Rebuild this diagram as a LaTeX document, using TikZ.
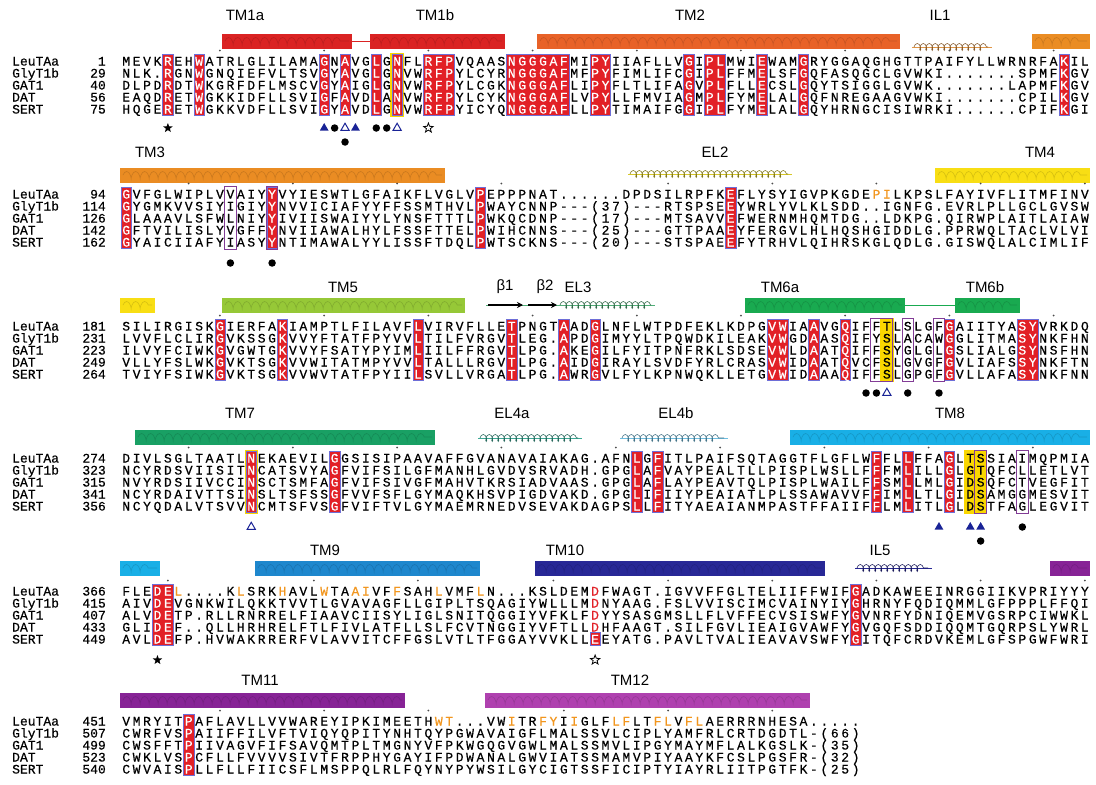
\documentclass[tikz,border=0pt]{standalone}
\usepackage{fontspec}
\setmainfont{Liberation Sans}
\newfontfamily\seqfont[FakeBold=0.5]{Liberation Mono}
\usetikzlibrary{decorations.pathmorphing,shapes.geometric,arrows.meta}

\definecolor{idred}{RGB}{226,32,38}
\definecolor{idframe}{RGB}{110,110,215}
\definecolor{resorange}{RGB}{242,150,30}
\definecolor{ringpurple}{RGB}{130,60,150}
\definecolor{siteyellow}{RGB}{250,215,0}
\definecolor{natri}{RGB}{25,35,150}
\definecolor{tmone}{RGB}{218,35,35}
\definecolor{tmtwo}{RGB}{232,98,40}
\definecolor{tmthree}{RGB}{234,140,35}
\definecolor{tmfour}{RGB}{248,222,20}
\definecolor{tmfive}{RGB}{150,200,55}
\definecolor{tmsix}{RGB}{25,170,80}
\definecolor{tmseven}{RGB}{25,160,100}
\definecolor{tmeight}{RGB}{25,175,230}
\definecolor{tmnine}{RGB}{30,135,205}
\definecolor{tmten}{RGB}{40,40,150}
\definecolor{tmeleven}{RGB}{135,35,150}
\definecolor{tmtwelve}{RGB}{175,65,175}
\definecolor{eltwo}{RGB}{215,200,40}
\definecolor{elthree}{RGB}{80,175,120}
\definecolor{elfoura}{RGB}{60,170,150}
\definecolor{elfourb}{RGB}{110,190,225}
\definecolor{iltan}{RGB}{225,150,70}

\tikzset{
  x=1pt, y=-1pt,
  seqres/.style={inner sep=0pt,anchor=base,font=\seqfont\fontsize{13}{13}\selectfont},
  rowname/.style={inner sep=0pt,anchor=base west,font=\seqfont\fontsize{13}{13}\selectfont},
  rownum/.style={inner sep=0pt,anchor=base east,font=\seqfont\fontsize{13}{13}\selectfont},
  tmlabel/.style={inner sep=0pt,font=\fontsize{15}{15}\selectfont},
  idbox/.style={fill=idred,draw=idframe,line width=0.5pt},
  sitebox/.style={fill=siteyellow},
  ringbox/.style={draw=ringpurple,line width=1pt},
  tickdot/.style={fill=black!70},
  helixcoil/.style={decorate,decoration={coil,aspect=0.4,segment length=9pt,amplitude=3.5pt},
    line width=0.6pt,opacity=0.3},
  loopcoil/.style={decorate,decoration={coil,aspect=0.5,segment length=6pt,amplitude=3.5pt},
    line width=0.6pt},
  strand/.style={-{Stealth[length=6pt,width=6pt]},line width=1.6pt},
  leusym/.style={circle,fill=black,inner sep=0pt,minimum size=7.5pt},
  natwo/.style={regular polygon,regular polygon sides=3,fill=natri,inner sep=0pt,minimum size=10pt},
  naone/.style={regular polygon,regular polygon sides=3,draw=natri,fill=white,line width=1pt,
    inner sep=0pt,minimum size=9.5pt},
  saltfill/.style={star,star points=5,star point ratio=2.4,fill=black,inner sep=0pt,minimum size=10pt},
  saltopen/.style={star,star points=5,star point ratio=2.4,draw=black,fill=white,line width=0.8pt,
    inner sep=0pt,minimum size=10pt},
}

\makeatletter
\newcount\al@col
\newcount\al@res
\newif\ifal@lead
\def\al@xz{121}
\def\al@pp{10.42}
\def\al@dy{12}
\def\al@box{,}
\def\al@red{,}
\def\al@org{,}
\newcommand\alblock[1]{\gdef\al@top{#1}\gdef\al@red{,}}
\newcommand\redcols[1]{\gdef\al@red{,#1,}}
\newcommand\sitecols[1]{%
  \foreach \a/\b in {#1}{%
    \fill[sitebox] ({\al@xz+(\a-1)*\al@pp-1.5},\al@top-8) rectangle ({\al@xz+\b*\al@pp+1.5},\al@top+4*\al@dy+8);}}
\newcommand\idboxes[1]{%
  \gdef\al@box{,}%
  \foreach \a/\b in {#1}{%
    \draw[idbox] ({\al@xz+(\a-1)*\al@pp},\al@top-6.5) rectangle ({\al@xz+\b*\al@pp},\al@top+4*\al@dy+6.5);
    \foreach \c in {\a,...,\b}{\xdef\al@box{\al@box\c,}}}}
\newcommand\cellbox[2]{%
  \draw[idbox] ({\al@xz+(#1-1)*\al@pp},\al@top+#2*\al@dy-6.5) rectangle ({\al@xz+#1*\al@pp},\al@top+#2*\al@dy+6.5);
  \xdef\al@box{\al@box#1,}}
\newcommand\ringcols[1]{%
  \foreach \a/\b in {#1}{%
    \draw[ringbox] ({\al@xz+(\a-1)*\al@pp-0.5},\al@top-7.5) rectangle ({\al@xz+\b*\al@pp+0.5},\al@top+4*\al@dy+7.5);}}
\newcommand\seqrow[3][]{%
  \gdef\al@org{,#1,}%
  \pgfmathsetmacro\al@y{\al@top+#2*\al@dy+4.5}%
  \global\al@col=0
  \al@scan#3\@nil}
\newcommand\leurow[4][]{%
  \global\al@leadtrue
  \global\al@res=#3\relax
  \global\advance\al@res by -1
  \seqrow[#1]{#2}{#4}%
  \global\al@leadfalse}
\def\al@scan#1{\ifx#1\@nil\expandafter\@gobble\else\expandafter\@firstofone\fi{\al@put{#1}\al@scan}}
\def\al@put#1{%
  \global\advance\al@col by 1
  \edef\al@x{\al@xz+(\the\al@col-0.5)*\al@pp}%
  \def\al@clr{black}%
  \edef\al@tmp{\noexpand\in@{,\the\al@col,}{\al@org}}\al@tmp
  \ifin@\def\al@clr{resorange}\fi
  \edef\al@tmp{\noexpand\in@{,\the\al@col,}{\al@red}}\al@tmp
  \ifin@\def\al@clr{idred}\fi
  \edef\al@tmp{\noexpand\in@{,\the\al@col,}{\al@box}}\al@tmp
  \ifin@\def\al@clr{white}\fi
  \node[seqres,text=\al@clr] at ({\al@x},\al@y) {#1};%
  \ifal@lead
    \if#1.\else
      \global\advance\al@res by 1
      \count@=\al@res \divide\count@ by 10 \multiply\count@ by 10
      \ifnum\count@=\al@res\relax
        \fill[tickdot] ({\al@x},\al@top-10.5) circle (1);%
      \fi
    \fi
  \fi}
\newcommand\rowlabels[5]{%
  \foreach \n/\v [count=\k from 0] in {LeuTAa/#1,GlyT1b/#2,GAT1/#3,DAT/#4,SERT/#5}{%
    \node[rowname] (name\k) at (12,\al@top+\k*\al@dy+4.5) {\n};
    \node[rownum] (num\k) at (106,\al@top+\k*\al@dy+4.5) {\v};}}
\newcommand\siteat[4]{%
  \node[#3] (#4) at ({\al@xz+(#1-0.5)*\al@pp},#2) {};}
\newcommand\helixbar[4]{%
  \fill[#4] (#1,#3-7.5) rectangle (#2,#3+7.5);
  \draw[helixcoil,#4!55!black] (#1+3,#3) -- (#2-3,#3);}
\newcommand\loophelix[4]{%
  \draw[#4,line width=1pt] (#1,#3) -- (#2,#3);
  \draw[loopcoil,#4!60!black] (#1+2,#3) -- (#2-4,#3);}
\makeatother

\begin{document}
\begin{tikzpicture}
\useasboundingbox[fill=white] (0,0) rectangle (1096,785);

% block 1
\helixbar{222}{352}{41}{tmone}
\draw[tmone,line width=1pt] (352,41) -- (370,41);
\helixbar{370}{505}{41}{tmone}
\helixbar{537}{900}{41}{tmtwo}
\loophelix{912}{992}{47}{iltan}
\helixbar{1032}{1090}{41}{tmthree}
\node[tmlabel] (tmonea) at (245,15) {TM1a};
\node[tmlabel] (tmoneb) at (435,15) {TM1b};
\node[tmlabel] (tmtwo) at (690,15) {TM2};
\node[tmlabel] (ilone) at (940,15) {IL1};
\alblock{61}
\sitecols{27/27}
\idboxes{5/5,8/8,20/20,22/22,25/25,27/27,30/32,38/43,46/47,55/55,57/58,62/62,66/66,91/91}
\leurow{0}{1}{MEVKREHWATRLGLILAMAGNAVGLGNFLRFPVQAASNGGGAFMIPYIIAFLLVGIPLMWIEWAMGRYGGAQGHGTTPAIFYLLWRNRFAKIL}
\seqrow{1}{NLK.RGNWGNQIEFVLTSVGYAVGLGNVWRFPYLCYRNGGGAFMFPYFIMLIFCGIPLFFMELSFGQFASQGCLGVWKI.......SPMFKGV}
\seqrow{2}{DLPDRDTWKGRFDFLMSCVGYAIGLGNVWRFPYLCGKNGGGAFLIPYFLTLIFAGVPLFLLECSLGQYTSIGGLGVWK.......LAPMFKGV}
\seqrow{3}{EAQDRETWGKKIDFLLSVIGFAVDLANVWRFPYLCYKNGGGAFLVPYLLFMVIAGMPLFYMELALGQFNREGAAGVWKI.......CPILKGV}
\seqrow{4}{HQGERETWGKKVDFLLSVIGYAVDLGNVWRFPYICYQNGGGAFLLPYTIMAIFGGIPLFYMELALGQYHRNGCISIWRKI......CPIFKGI}
\rowlabels{1}{29}{40}{56}{75}
\siteat{5}{128}{saltfill}{sbone}
\siteat{20}{128}{natwo}{natwoa}
\siteat{21}{128}{leusym}{leua}
\siteat{22}{128}{naone}{naonea}
\siteat{23}{128}{natwo}{natwob}
\siteat{25}{128}{leusym}{leub}
\siteat{26}{128}{leusym}{leuc}
\siteat{27}{128}{naone}{naoneb}
\siteat{30}{128}{saltopen}{sbtwo}
\siteat{22}{142}{leusym}{leud}

% block 2
\helixbar{120}{445}{175}{tmthree}
\loophelix{628}{792}{174}{eltwo}
\helixbar{935}{1090}{175}{tmfour}
\node[tmlabel] (tmthree) at (150,152) {TM3};
\node[tmlabel] (eltwo) at (715,152) {EL2};
\node[tmlabel] (tmfour) at (1040,152) {TM4};
\alblock{194}
\idboxes{1/1,15/15,35/35,59/59}
\leurow[73,74]{0}{94}{GVFGLWIPLVVAIYYVYIESWTLGFAIKFLVGLVPEPPPNAT......DPDSILRPFKEFLYSYIGVPKGDEPILKPSLFAYIVFLITMFINV}
\seqrow{1}{GYGMKVVSIYIGIYYNVVICIAFYYFFSSMTHVLPWAYCNNP---(37)---RTSPSEEYWRLYVLKLSDD..IGNFG.EVRLPLLGCLGVSW}
\seqrow{2}{GLAAAVLSFWLNIYYIVIISWAIYYLYNSFTTTLPWKQCDNP---(17)---MTSAVVEFWERNMHQMTDG..LDKPG.QIRWPLAITLAIAW}
\seqrow{3}{GFTVILISLYVGFFYNVIIAWALHYLFSSFTTELPWIHCNNS---(25)---GTTPAAEYFERGVLHLHQSHGIDDLG.PPRWQLTACLVLVI}
\seqrow{4}{GYAICIIAFYIASYYNTIMAWALYYLISSFTDQLPWTSCKNS---(20)---STSPAEEFYTRHVLQIHRSKGLQDLG.GISWQLALCIMLIF}
\ringcols{11/11,15/15}
\rowlabels{94}{114}{126}{142}{162}
\siteat{11}{263}{leusym}{leue}
\siteat{15}{263}{leusym}{leuf}

% block 3
\helixbar{120}{155}{305}{tmfour}
\helixbar{222}{465}{305}{tmfive}
\draw[elthree,line width=0.9pt] (486,305) -- (560,305);
\draw[strand] (488,305) -- (523,305);
\draw[strand] (528,305) -- (557,305);
\loophelix{558}{655}{305}{elthree}
\helixbar{745}{905}{305}{tmsix}
\draw[tmsix,line width=1pt] (905,305) -- (955,305);
\helixbar{955}{1020}{305}{tmsix}
\node[tmlabel] (tmfive) at (343,287) {TM5};
\node[tmlabel] (betaone) at (505,287) {β1};
\node[tmlabel] (betatwo) at (545,287) {β2};
\node[tmlabel] (elthree) at (578,287) {EL3};
\node[tmlabel] (tmsixa) at (780,287) {TM6a};
\node[tmlabel] (tmsixb) at (985,287) {TM6b};
\alblock{326}
\sitecols{74/74}
\idboxes{10/10,16/16,29/29,38/38,43/43,46/46,63/64,67/67,70/70,80/80,87/88}
\leurow{0}{181}{SILIRGISKGIERFAKIAMPTLFILAVFLVIRVFLLETPNGTAADGLNFLWTPDFEKLKDPGVWIAAVGQIFFTLSLGFGAIITYASYVRKDQ}
\seqrow{1}{LVVFLCLIRGVKSSGKVVYFTATFPYVVLTILFVRGVTLEG.APDGIMYYLTPQWDKILEAKVWGDAASQIFYSLACAWGGLITMASYNKFHN}
\seqrow{2}{ILVYFCIWKGVGWTGKVVYFSATYPYIMLIILFFRGVTLPG.AKEGILFYITPNFRKLSDSEVWLDAATQIFFSYGLGLGSLIALGSYNSFHN}
\seqrow{3}{VLLYFSLWKGVKTSGKVVWITATMPYVVLTALLLRGVTLPG.AIDGIRAYLSVDFYRLCRASVWIDAATQVCFSLGVGFGVLIAFSSYNKFTN}
\seqrow{4}{TVIYFSIWKGVKTSGKVVWVTATFPYIILSVLLVRGATLPG.AWRGVLFYLKPNWQKLLETGVWIDAAAQIFFSLGPGFGVLLAFASYNKFNN}
\ringcols{73/74,76/76,79/79}
\rowlabels{181}{231}{223}{249}{264}
\siteat{72}{393}{leusym}{leug}
\siteat{73}{393}{leusym}{leuh}
\siteat{74}{393}{naone}{naonec}
\siteat{76}{393}{leusym}{leui}
\siteat{79}{393}{leusym}{leuj}

% block 4
\helixbar{135}{435}{437}{tmseven}
\loophelix{478}{582}{438}{elfoura}
\loophelix{620}{728}{438}{elfourb}
\helixbar{790}{1090}{437}{tmeight}
\node[tmlabel] (tmseven) at (240,413) {TM7};
\node[tmlabel] (elfoura) at (512,413) {EL4a};
\node[tmlabel] (elfourb) at (676,413) {EL4b};
\node[tmlabel] (tmeight) at (950,413) {TM8};
\alblock{458}
\sitecols{13/13,82/83}
\idboxes{13/13,21/21,50/50,52/52,73/73,76/76,80/80}
\leurow{0}{274}{DIVLSGLTAATLNEKAEVILGGSISIPAAVAFFGVANAVAIAKAG.AFNLGFITLPAIFSQTAGGTFLGFLWFFLLFFAGLTSSIAIMQPMIA}
\seqrow{1}{NCYRDSVIISITNCATSVYAGFVIFSILGFMANHLGVDVSRVADH.GPGLAFVAYPEALTLLPISPLWSLLFFFMLILLGLGTQFCLLETLVT}
\seqrow{2}{NVYRDSIIVCCINSCTSMFAGFVIFSIVGFMAHVTKRSIADVAAS.GPGLAFLAYPEAVTQLPISPLWAILFFSMLLMLGIDSQFCTVEGFIT}
\seqrow{3}{NCYRDAIVTTSINSLTSFSSGFVVFSFLGYMAQKHSVPIGDVAKD.GPGLIFIIYPEAIATLPLSSAWAVVFFIMLLTLGIDSAMGGMESVIT}
\seqrow{4}{NCYQDALVTSVVNCMTSFVSGFVIFTVLGYMAEMRNEDVSEVAKDAGPSLLFITYAEAIANMPASTFFAIIFFLMLITLGLDSTFAGLEGVIT}
\ringcols{83/83,87/87}
\rowlabels{274}{323}{315}{341}{356}
\siteat{13}{527}{naone}{naoned}
\siteat{79}{527}{natwo}{natwoc}
\siteat{82}{527}{natwo}{natwod}
\siteat{83}{527}{natwo}{natwoe}
\siteat{87}{527}{leusym}{leuk}
\siteat{83}{541}{leusym}{leul}

% block 5
\helixbar{120}{160}{568}{tmeight}
\helixbar{255}{480}{568}{tmnine}
\helixbar{535}{825}{568}{tmten}
\loophelix{855}{932}{568}{tmten}
\helixbar{1050}{1090}{568}{tmeleven}
\node[tmlabel] (tmnine) at (325,550) {TM9};
\node[tmlabel] (tmten) at (565,550) {TM10};
\node[tmlabel] (ilfive) at (880,550) {IL5};
\alblock{591}
\idboxes{4/5,71/71}
\redcols{46}
\leurow[6,12,16,20,23,24,27,31,35]{0}{366}{FLEDEL....KLSRKHAVLWTAAIVFFSAHLVMFLN...KSLDEMDFWAGT.IGVVFFGLTELIIFFWIFGADKAWEEINRGGIIKVPRIYYY}
\seqrow{1}{AIVDEVGNKWILQKKTVVTLGVAVAGFLLGIPLTSQAGIYWLLLMDNYAAG.FSLVVISCIMCVAINYIYGHRNYFQDIQMMLGFPPPLFFQI}
\seqrow{2}{ALVDETP.RLLRNRRELFIAAVCIISYLIGLSNITQGGIYVFKLFDYYSASGMSLLFLVFFECVSISWFYGVNRFYDNIQEMVGSRPCIWWKL}
\seqrow{3}{GLIDEF..QLLHRHRELFTLFIVLATFLLSLFCVTNGGIYVFTLLDHFAAGT.SILFGVLIEAIGVAWFYGVGQFSDDIQQMTGQRPSLYWRL}
\cellbox{46}{4}
\seqrow{4}{AVLDEFP.HVWAKRRERFVLAVVITCFFGSLVTLTFGGAYVVKLLEEYATG.PAVLTVALIEAVAVSWFYGITQFCRDVKEMLGFSPGWFWRI}
\rowlabels{366}{415}{407}{433}{449}
\siteat{4}{660}{saltfill}{sbthree}
\siteat{46}{660}{saltopen}{sbfour}

% block 6
\helixbar{120}{405}{700}{tmeleven}
\helixbar{485}{810}{700}{tmtwelve}
\node[tmlabel] (tmeleven) at (260,680) {TM11};
\node[tmlabel] (tmtwelve) at (630,680) {TM12};
\alblock{721}
\idboxes{7/7}
\leurow[31,32,38,41,42,44,48,49,52,53,55,56]{0}{451}{VMRYITPAFLAVLLVVWAREYIPKIMEETHWT...VWITRFYIIGLFLFLTFLVFLAERRRNHESA.....}
\seqrow{1}{CWRFVSPAIIFFILVFTVIQYQPITYNHTQYPGWAVAIGFLMALSSVLCIPLYAMFRLCRTDGDTL-(66)}
\seqrow{2}{CWSFFTPIIVAGVFIFSAVQMTPLTMGNYVFPKWGQGVGWLMALSSMVLIPGYMAYMFLALKGSLK-(35)}
\seqrow{3}{CWKLVSPCFLLFVVVVSIVTFRPPHYGAYIFPDWANALGWVIATSSMAMVPIYAAYKFCSLPGSFR-(32)}
\seqrow{4}{CWVAISPLLFLLFIICSFLMSPPQLRLFQYNYPYWSILGYCIGTSSFICIPTYIAYRLIITPGTFK-(25)}
\rowlabels{451}{507}{499}{523}{540}
\end{tikzpicture}
\end{document}
